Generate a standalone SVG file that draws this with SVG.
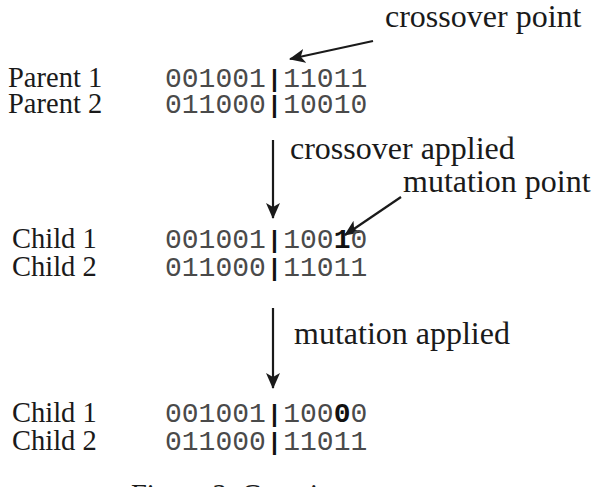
<svg xmlns="http://www.w3.org/2000/svg" width="592" height="487" viewBox="0 0 592 487">
<defs>
<marker id="ah" markerWidth="16" markerHeight="14" refX="15" refY="7" orient="auto" markerUnits="userSpaceOnUse">
<path d="M0,0 L16,7 L0,14 L4,7 Z" fill="#1a1a1a"/>
</marker>
<style>
.lbl{font-family:"Liberation Serif","Times New Roman",serif;font-size:28.5px;fill:#1a1a1a}
.ann{font-family:"Liberation Serif","Times New Roman",serif;font-size:32px;fill:#1a1a1a}
.bits{font-family:"Liberation Mono","Courier New",monospace;font-size:28px;fill:#4a4a4a}
.bar{font-weight:bold;font-size:24px;fill:#111}
.b{font-weight:bold;fill:#111}
.ln{stroke:#1a1a1a;stroke-width:2.2;fill:none}
</style>
</defs>
<rect width="592" height="487" fill="#fff"/>
<g id="connectors">
<line class="ln" x1="373" y1="41" x2="290" y2="59" marker-end="url(#ah)"/>
<line class="ln" x1="273" y1="140" x2="273" y2="218" marker-end="url(#ah)"/>
<line class="ln" x1="401" y1="197" x2="345" y2="235" marker-end="url(#ah)"/>
<line class="ln" x1="273" y1="308" x2="273" y2="388" marker-end="url(#ah)"/>
</g>
<g id="crossover-point"><text class="ann" x="385" y="27">crossover point</text></g>
<g id="parent1"><text class="lbl" x="8" y="87">Parent 1</text><text class="bits" x="165" y="87">001001<tspan class="bar" dx="1.5">|</tspan><tspan dx="1.5">11011</tspan></text></g>
<g id="parent2"><text class="lbl" x="8" y="113">Parent 2</text><text class="bits" x="165" y="113">011000<tspan class="bar" dx="1.5">|</tspan><tspan dx="1.5">10010</tspan></text></g>
<g id="crossover-applied"><text class="ann" x="290" y="159">crossover applied</text></g>
<g id="mutation-point"><text class="ann" x="403" y="192">mutation point</text></g>
<g id="child1a"><text class="lbl" x="12" y="248">Child 1</text><text class="bits" x="165" y="248">001001<tspan class="bar" dx="1.5">|</tspan><tspan dx="1.5">100</tspan><tspan class="b">1</tspan>0</text></g>
<g id="child2a"><text class="lbl" x="12" y="276">Child 2</text><text class="bits" x="165" y="276">011000<tspan class="bar" dx="1.5">|</tspan><tspan dx="1.5">11011</tspan></text></g>
<g id="mutation-applied"><text class="ann" x="294" y="344">mutation applied</text></g>
<g id="child1b"><text class="lbl" x="12" y="422">Child 1</text><text class="bits" x="165" y="422">001001<tspan class="bar" dx="1.5">|</tspan><tspan dx="1.5">100</tspan><tspan class="b">0</tspan>0</text></g>
<g id="child2b"><text class="lbl" x="12" y="450">Child 2</text><text class="bits" x="165" y="450">011000<tspan class="bar" dx="1.5">|</tspan><tspan dx="1.5">11011</tspan></text></g>
<g id="caption"><text class="lbl" x="131" y="504">Figure 3: Genetic</text></g>
</svg>
